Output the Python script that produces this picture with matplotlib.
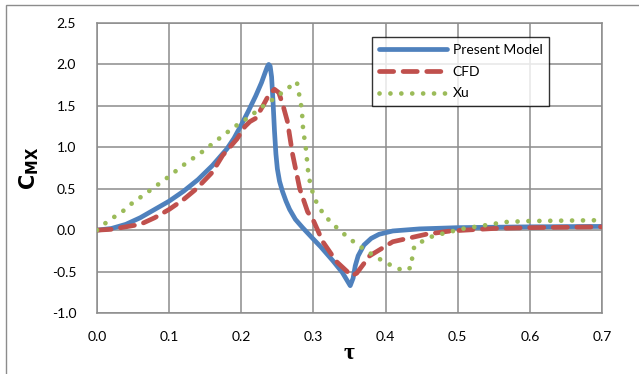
import matplotlib
matplotlib.use('Agg')
import matplotlib.pyplot as plt
from matplotlib.patches import Rectangle

plt.rcParams['font.family'] = ['Lato', 'DejaVu Sans']

# Present Model
tau_pm = [0, 0.02, 0.04, 0.06, 0.08, 0.10, 0.12, 0.14, 0.16, 0.18, 0.19, 0.20, 0.21, 0.22,
          0.228, 0.233, 0.236, 0.238, 0.240, 0.242, 0.244, 0.246, 0.248, 0.250, 0.253, 0.257,
          0.262, 0.267, 0.275, 0.285, 0.299, 0.31, 0.327, 0.34, 0.351, 0.355, 0.358, 0.362,
          0.37, 0.38, 0.391, 0.41, 0.447, 0.5, 0.6, 0.7]
cmx_pm = [0, 0.02, 0.07, 0.15, 0.25, 0.35, 0.47, 0.61, 0.78, 0.98, 1.11, 1.27, 1.44, 1.62,
          1.78, 1.90, 1.97, 2.0, 1.98, 1.85, 1.55, 1.2, 0.92, 0.74, 0.59, 0.47,
          0.35, 0.25, 0.13, 0.03, -0.10, -0.20, -0.37, -0.51, -0.67, -0.58, -0.43, -0.31,
          -0.18, -0.1, -0.05, -0.01, 0.015, 0.03, 0.04, 0.045]

# CFD
tau_cfd = [0, 0.02, 0.04, 0.06, 0.08, 0.10, 0.12, 0.138, 0.16, 0.174, 0.194, 0.205, 0.212,
           0.22, 0.23, 0.238, 0.246, 0.252, 0.258, 0.264, 0.271, 0.281, 0.292, 0.299, 0.313,
           0.332, 0.353, 0.36, 0.378, 0.41, 0.456, 0.49, 0.55, 0.6, 0.7]
cmx_cfd = [0, 0.01, 0.04, 0.07, 0.15, 0.25, 0.37, 0.50, 0.70, 0.90, 1.10, 1.25, 1.31,
           1.35, 1.50, 1.63, 1.70, 1.66, 1.50, 1.31, 0.92, 0.50, 0.22, 0.135, -0.14,
           -0.38, -0.55, -0.52, -0.31, -0.14, -0.05, -0.01, 0.02, 0.03, 0.04]

# Xu
tau_xu = [0, 0.011, 0.024, 0.036, 0.048, 0.072, 0.097, 0.119, 0.145, 0.167, 0.191, 0.205,
          0.216, 0.229, 0.241, 0.252, 0.264, 0.277, 0.279, 0.282, 0.284, 0.285, 0.286, 0.289,
          0.290, 0.292, 0.293, 0.297, 0.300, 0.307, 0.315, 0.325, 0.336, 0.347, 0.36, 0.372,
          0.384, 0.398, 0.411, 0.425, 0.436, 0.437, 0.44, 0.452, 0.466, 0.48, 0.494, 0.509,
          0.524, 0.539, 0.553, 0.569, 0.6, 0.7]
cmx_xu = [0, 0.08, 0.16, 0.23, 0.32, 0.47, 0.63, 0.78, 0.94, 1.09, 1.25, 1.33,
          1.40, 1.49, 1.56, 1.63, 1.71, 1.79, 1.69, 1.56, 1.44, 1.31, 1.17, 1.05,
          0.92, 0.79, 0.65, 0.53, 0.41, 0.29, 0.18, 0.09, 0.0, -0.08, -0.17, -0.24,
          -0.31, -0.38, -0.44, -0.49, -0.45, -0.31, -0.19, -0.13, -0.07, -0.04, -0.01, 0.02,
          0.04, 0.06, 0.08, 0.10, 0.11, 0.12]

x_ticks = [0.0, 0.1, 0.2, 0.3, 0.4, 0.5, 0.6, 0.7]
y_ticks = [-1.0, -0.5, 0.0, 0.5, 1.0, 1.5, 2.0, 2.5]

fig = plt.figure(figsize=(6.39, 3.74), dpi=100)
ax = fig.add_axes([97/639, 1 - 313/374, (602 - 97)/639, (313 - 23)/374])

# outer chart border (only left/top visible)
fig.patches.append(Rectangle((6/639, -0.1), 1.2, 1.1 - 5/374, transform=fig.transFigure,
                             fill=False, edgecolor='#8c8c8c', lw=1.0))

ax.plot(tau_pm, cmx_pm, color='#4F81BD', lw=3.4, solid_capstyle='round',
        solid_joinstyle='round', label='Present Model', zorder=3)
ax.plot(tau_cfd, cmx_cfd, color='#C0504D', lw=3.4, dashes=(3.0, 2.0),
        dash_capstyle='round', label='CFD', zorder=4)
ax.plot(tau_xu, cmx_xu, color='#9BBB59', lw=3.4, dashes=(0.01, 2.3),
        dash_capstyle='round', label='Xu', zorder=5)

ax.set_xlim(0, 0.7)
ax.set_ylim(-1.0, 2.5)
ax.set_xticks(x_ticks)
ax.set_yticks(y_ticks)
ax.set_xticklabels(['%.1f' % v for v in x_ticks])
ax.set_yticklabels(['%.1f' % v for v in y_ticks])
ax.tick_params(length=0, labelsize=10, colors='#000000')
ax.tick_params(axis='x', pad=13)
ax.tick_params(axis='y', pad=15)
ax.grid(True, color='#8c8c8c', lw=1.1)
ax.set_axisbelow(True)
for s in ax.spines.values():
    s.set_color('#8c8c8c')
    s.set_linewidth(1.1)

ax.set_ylabel(r'$\mathbf{C}_{\mathbf{MX}}$', fontsize=15, labelpad=8)
ax.set_xlabel('τ', fontsize=17, fontweight='bold', family='Liberation Serif', labelpad=0)

leg = ax.legend(loc='upper left', bbox_to_anchor=(372/639, 1 - 37/374),
                bbox_transform=fig.transFigure, fontsize=10, frameon=True, fancybox=False,
                edgecolor='black', handlelength=4.9, handletextpad=0.4, labelspacing=0.7,
                borderpad=0.5, borderaxespad=0)
leg.get_frame().set_linewidth(1.0)
leg.set_zorder(10)

fig.savefig('out.png', dpi=100)
